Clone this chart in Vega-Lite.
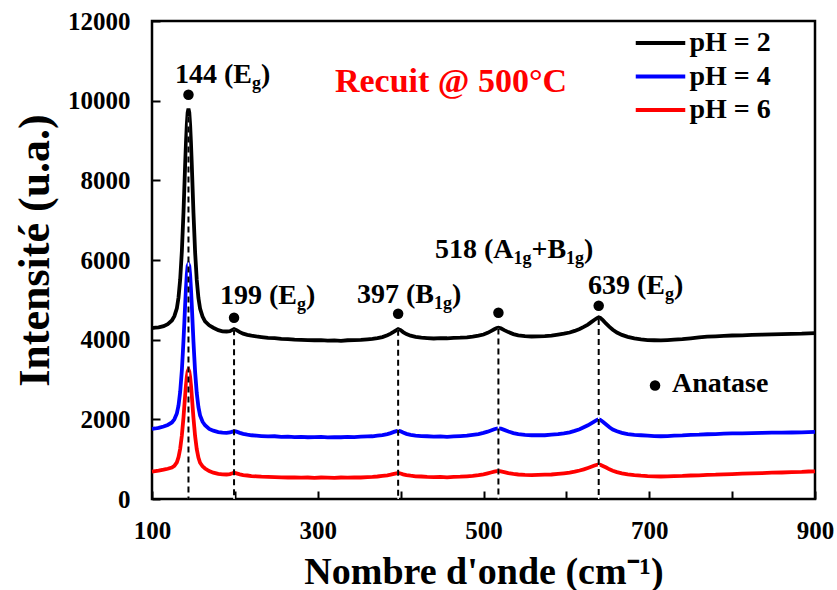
{
  "$schema": "https://vega.github.io/schema/vega-lite/v6.json",
  "width": 663,
  "height": 478,
  "autosize": {"type": "none"},
  "padding": {"left": 152, "top": 21, "right": 22, "bottom": 91},
  "background": "white",
  "config": {
    "view": {"stroke": "black", "strokeWidth": 2.5},
    "font": "Liberation Serif",
    "axis": {
      "grid": false,
      "domain": false,
      "tickColor": "black",
      "tickWidth": 2,
      "tickSize": -8,
      "labelFont": "Liberation Serif",
      "labelFontWeight": "bold",
      "labelFontSize": 25,
      "labelColor": "black",
      "titleFont": "Liberation Serif",
      "titleFontWeight": "bold",
      "titleFontSize": 38,
      "titleColor": "black"
    }
  },
  "encoding": {
    "x": {
      "field": "w",
      "type": "quantitative",
      "scale": {"domain": [100, 900], "nice": false, "zero": false},
      "axis": {
        "values": [100, 200, 300, 400, 500, 600, 700, 800, 900],
        "format": "d",
        "labelExpr": "datum.value % 200 == 100 ? datum.label : ''",
        "labelFlush": false,
        "labelOverlap": false,
        "labelPadding": 27,
        "title": "Nombre d'onde (cm⁻¹)",
        "titleX": 331.5,
        "titleY": 73,
        "titleAlign": "center",
        "titleBaseline": "middle"
      }
    },
    "y": {
      "field": "i",
      "type": "quantitative",
      "scale": {"domain": [0, 12000], "nice": false, "zero": false},
      "axis": {
        "values": [0, 2000, 4000, 6000, 8000, 10000, 12000],
        "format": "d",
        "labelPadding": 30,
        "labelOverlap": false,
        "title": "Intensité (u.a.)",
        "titleFontSize": 44,
        "titleX": -117,
        "titleY": 229,
        "titleAngle": -90,
        "titleAlign": "center",
        "titleBaseline": "middle"
      }
    }
  },
  "layer": [
    {
      "data": {
        "values": [
          {"w": 100, "pH = 2": 4290, "pH = 4": 1760, "pH = 6": 690},
          {"w": 104, "pH = 2": 4300, "pH = 4": 1770, "pH = 6": 700},
          {"w": 108, "pH = 2": 4310, "pH = 4": 1785, "pH = 6": 710},
          {"w": 114, "pH = 2": 4340, "pH = 4": 1820, "pH = 6": 735},
          {"w": 119, "pH = 2": 4390, "pH = 4": 1860, "pH = 6": 760},
          {"w": 124, "pH = 2": 4480, "pH = 4": 1920, "pH = 6": 790},
          {"w": 127, "pH = 2": 4590, "pH = 4": 2000, "pH = 6": 830},
          {"w": 130, "pH = 2": 4790, "pH = 4": 2150, "pH = 6": 920},
          {"w": 132, "pH = 2": 5060, "pH = 4": 2350, "pH = 6": 1050},
          {"w": 134, "pH = 2": 5510, "pH = 4": 2690, "pH = 6": 1260},
          {"w": 136, "pH = 2": 6210, "pH = 4": 3220, "pH = 6": 1590},
          {"w": 137, "pH = 2": 6700, "pH = 4": 3590, "pH = 6": 1820},
          {"w": 138, "pH = 2": 7200, "pH = 4": 3980, "pH = 6": 2050},
          {"w": 139, "pH = 2": 7800, "pH = 4": 4420, "pH = 6": 2330},
          {"w": 140, "pH = 2": 8400, "pH = 4": 4880, "pH = 6": 2600},
          {"w": 141, "pH = 2": 8950, "pH = 4": 5290, "pH = 6": 2860},
          {"w": 142, "pH = 2": 9400, "pH = 4": 5640, "pH = 6": 3070},
          {"w": 143, "pH = 2": 9700, "pH = 4": 5850, "pH = 6": 3200},
          {"w": 144, "pH = 2": 9800, "pH = 4": 5900, "pH = 6": 3250},
          {"w": 145, "pH = 2": 9700, "pH = 4": 5850, "pH = 6": 3200},
          {"w": 146, "pH = 2": 9400, "pH = 4": 5630, "pH = 6": 3065},
          {"w": 147, "pH = 2": 8950, "pH = 4": 5280, "pH = 6": 2855},
          {"w": 148, "pH = 2": 8400, "pH = 4": 4870, "pH = 6": 2600},
          {"w": 149, "pH = 2": 7800, "pH = 4": 4410, "pH = 6": 2320},
          {"w": 150, "pH = 2": 7200, "pH = 4": 3960, "pH = 6": 2045},
          {"w": 151, "pH = 2": 6700, "pH = 4": 3575, "pH = 6": 1810},
          {"w": 152, "pH = 2": 6200, "pH = 4": 3200, "pH = 6": 1580},
          {"w": 154, "pH = 2": 5500, "pH = 4": 2660, "pH = 6": 1250},
          {"w": 156, "pH = 2": 5050, "pH = 4": 2310, "pH = 6": 1040},
          {"w": 158, "pH = 2": 4780, "pH = 4": 2100, "pH = 6": 910},
          {"w": 161, "pH = 2": 4580, "pH = 4": 1940, "pH = 6": 820},
          {"w": 164, "pH = 2": 4460, "pH = 4": 1850, "pH = 6": 765},
          {"w": 169, "pH = 2": 4360, "pH = 4": 1760, "pH = 6": 700},
          {"w": 174, "pH = 2": 4300, "pH = 4": 1715, "pH = 6": 660},
          {"w": 180, "pH = 2": 4240, "pH = 4": 1680, "pH = 6": 630},
          {"w": 185, "pH = 2": 4210, "pH = 4": 1665, "pH = 6": 620},
          {"w": 190, "pH = 2": 4205, "pH = 4": 1660, "pH = 6": 615},
          {"w": 194, "pH = 2": 4215, "pH = 4": 1670, "pH = 6": 625},
          {"w": 197, "pH = 2": 4245, "pH = 4": 1690, "pH = 6": 645},
          {"w": 199, "pH = 2": 4265, "pH = 4": 1705, "pH = 6": 660},
          {"w": 202, "pH = 2": 4240, "pH = 4": 1690, "pH = 6": 645},
          {"w": 206, "pH = 2": 4190, "pH = 4": 1660, "pH = 6": 620},
          {"w": 210, "pH = 2": 4150, "pH = 4": 1635, "pH = 6": 600},
          {"w": 215, "pH = 2": 4120, "pH = 4": 1615, "pH = 6": 590},
          {"w": 220, "pH = 2": 4100, "pH = 4": 1600, "pH = 6": 575},
          {"w": 226, "pH = 2": 4080, "pH = 4": 1590, "pH = 6": 570},
          {"w": 232, "pH = 2": 4065, "pH = 4": 1580, "pH = 6": 560},
          {"w": 240, "pH = 2": 4045, "pH = 4": 1570, "pH = 6": 555},
          {"w": 248, "pH = 2": 4040, "pH = 4": 1575, "pH = 6": 550},
          {"w": 256, "pH = 2": 4020, "pH = 4": 1560, "pH = 6": 545},
          {"w": 264, "pH = 2": 4015, "pH = 4": 1565, "pH = 6": 540},
          {"w": 272, "pH = 2": 4000, "pH = 4": 1555, "pH = 6": 545},
          {"w": 280, "pH = 2": 3995, "pH = 4": 1560, "pH = 6": 535},
          {"w": 288, "pH = 2": 3990, "pH = 4": 1550, "pH = 6": 540},
          {"w": 296, "pH = 2": 3985, "pH = 4": 1555, "pH = 6": 530},
          {"w": 304, "pH = 2": 3990, "pH = 4": 1560, "pH = 6": 540},
          {"w": 312, "pH = 2": 3975, "pH = 4": 1545, "pH = 6": 535},
          {"w": 320, "pH = 2": 3980, "pH = 4": 1555, "pH = 6": 530},
          {"w": 328, "pH = 2": 3970, "pH = 4": 1550, "pH = 6": 540},
          {"w": 336, "pH = 2": 3985, "pH = 4": 1560, "pH = 6": 535},
          {"w": 344, "pH = 2": 3990, "pH = 4": 1555, "pH = 6": 545},
          {"w": 352, "pH = 2": 3995, "pH = 4": 1565, "pH = 6": 540},
          {"w": 360, "pH = 2": 4010, "pH = 4": 1570, "pH = 6": 550},
          {"w": 366, "pH = 2": 4020, "pH = 4": 1575, "pH = 6": 555},
          {"w": 372, "pH = 2": 4040, "pH = 4": 1590, "pH = 6": 565},
          {"w": 378, "pH = 2": 4065, "pH = 4": 1605, "pH = 6": 580},
          {"w": 384, "pH = 2": 4110, "pH = 4": 1630, "pH = 6": 595},
          {"w": 388, "pH = 2": 4150, "pH = 4": 1655, "pH = 6": 610},
          {"w": 392, "pH = 2": 4200, "pH = 4": 1685, "pH = 6": 630},
          {"w": 395, "pH = 2": 4240, "pH = 4": 1705, "pH = 6": 645},
          {"w": 397, "pH = 2": 4265, "pH = 4": 1715, "pH = 6": 655},
          {"w": 400, "pH = 2": 4240, "pH = 4": 1700, "pH = 6": 640},
          {"w": 403, "pH = 2": 4190, "pH = 4": 1670, "pH = 6": 620},
          {"w": 407, "pH = 2": 4140, "pH = 4": 1635, "pH = 6": 600},
          {"w": 412, "pH = 2": 4100, "pH = 4": 1610, "pH = 6": 585},
          {"w": 418, "pH = 2": 4070, "pH = 4": 1590, "pH = 6": 570},
          {"w": 425, "pH = 2": 4050, "pH = 4": 1580, "pH = 6": 565},
          {"w": 432, "pH = 2": 4040, "pH = 4": 1575, "pH = 6": 555},
          {"w": 440, "pH = 2": 4030, "pH = 4": 1565, "pH = 6": 550},
          {"w": 448, "pH = 2": 4040, "pH = 4": 1570, "pH = 6": 555},
          {"w": 456, "pH = 2": 4035, "pH = 4": 1560, "pH = 6": 545},
          {"w": 464, "pH = 2": 4045, "pH = 4": 1570, "pH = 6": 555},
          {"w": 472, "pH = 2": 4050, "pH = 4": 1580, "pH = 6": 560},
          {"w": 480, "pH = 2": 4060, "pH = 4": 1590, "pH = 6": 570},
          {"w": 487, "pH = 2": 4075, "pH = 4": 1610, "pH = 6": 580},
          {"w": 494, "pH = 2": 4100, "pH = 4": 1630, "pH = 6": 600},
          {"w": 500, "pH = 2": 4130, "pH = 4": 1660, "pH = 6": 620},
          {"w": 505, "pH = 2": 4170, "pH = 4": 1690, "pH = 6": 645},
          {"w": 509, "pH = 2": 4215, "pH = 4": 1720, "pH = 6": 665},
          {"w": 513, "pH = 2": 4260, "pH = 4": 1750, "pH = 6": 685},
          {"w": 516, "pH = 2": 4290, "pH = 4": 1770, "pH = 6": 700},
          {"w": 518, "pH = 2": 4300, "pH = 4": 1775, "pH = 6": 705},
          {"w": 521, "pH = 2": 4285, "pH = 4": 1765, "pH = 6": 695},
          {"w": 525, "pH = 2": 4240, "pH = 4": 1735, "pH = 6": 675},
          {"w": 530, "pH = 2": 4190, "pH = 4": 1695, "pH = 6": 650},
          {"w": 536, "pH = 2": 4140, "pH = 4": 1655, "pH = 6": 630},
          {"w": 542, "pH = 2": 4110, "pH = 4": 1630, "pH = 6": 615},
          {"w": 550, "pH = 2": 4090, "pH = 4": 1610, "pH = 6": 605},
          {"w": 558, "pH = 2": 4080, "pH = 4": 1600, "pH = 6": 600},
          {"w": 566, "pH = 2": 4085, "pH = 4": 1605, "pH = 6": 605},
          {"w": 574, "pH = 2": 4090, "pH = 4": 1600, "pH = 6": 610},
          {"w": 582, "pH = 2": 4100, "pH = 4": 1615, "pH = 6": 615},
          {"w": 590, "pH = 2": 4125, "pH = 4": 1630, "pH = 6": 630},
          {"w": 597, "pH = 2": 4150, "pH = 4": 1650, "pH = 6": 645},
          {"w": 604, "pH = 2": 4180, "pH = 4": 1675, "pH = 6": 660},
          {"w": 610, "pH = 2": 4220, "pH = 4": 1710, "pH = 6": 685},
          {"w": 616, "pH = 2": 4270, "pH = 4": 1750, "pH = 6": 715},
          {"w": 621, "pH = 2": 4320, "pH = 4": 1800, "pH = 6": 745},
          {"w": 626, "pH = 2": 4380, "pH = 4": 1850, "pH = 6": 780},
          {"w": 630, "pH = 2": 4440, "pH = 4": 1900, "pH = 6": 810},
          {"w": 634, "pH = 2": 4500, "pH = 4": 1950, "pH = 6": 840},
          {"w": 637, "pH = 2": 4540, "pH = 4": 1985, "pH = 6": 860},
          {"w": 639, "pH = 2": 4560, "pH = 4": 2000, "pH = 6": 870},
          {"w": 641, "pH = 2": 4545, "pH = 4": 1985, "pH = 6": 860},
          {"w": 644, "pH = 2": 4490, "pH = 4": 1940, "pH = 6": 830},
          {"w": 648, "pH = 2": 4400, "pH = 4": 1870, "pH = 6": 790},
          {"w": 652, "pH = 2": 4320, "pH = 4": 1800, "pH = 6": 745},
          {"w": 656, "pH = 2": 4250, "pH = 4": 1745, "pH = 6": 710},
          {"w": 661, "pH = 2": 4180, "pH = 4": 1700, "pH = 6": 675},
          {"w": 667, "pH = 2": 4120, "pH = 4": 1660, "pH = 6": 645},
          {"w": 674, "pH = 2": 4070, "pH = 4": 1630, "pH = 6": 620},
          {"w": 682, "pH = 2": 4030, "pH = 4": 1610, "pH = 6": 600},
          {"w": 690, "pH = 2": 4005, "pH = 4": 1600, "pH = 6": 585},
          {"w": 698, "pH = 2": 3990, "pH = 4": 1590, "pH = 6": 575},
          {"w": 706, "pH = 2": 3985, "pH = 4": 1580, "pH = 6": 570},
          {"w": 714, "pH = 2": 3980, "pH = 4": 1575, "pH = 6": 565},
          {"w": 722, "pH = 2": 3990, "pH = 4": 1580, "pH = 6": 570},
          {"w": 730, "pH = 2": 4000, "pH = 4": 1590, "pH = 6": 575},
          {"w": 740, "pH = 2": 4015, "pH = 4": 1595, "pH = 6": 580},
          {"w": 750, "pH = 2": 4035, "pH = 4": 1610, "pH = 6": 590},
          {"w": 760, "pH = 2": 4055, "pH = 4": 1615, "pH = 6": 595},
          {"w": 770, "pH = 2": 4075, "pH = 4": 1625, "pH = 6": 605},
          {"w": 780, "pH = 2": 4085, "pH = 4": 1630, "pH = 6": 610},
          {"w": 790, "pH = 2": 4095, "pH = 4": 1640, "pH = 6": 620},
          {"w": 800, "pH = 2": 4105, "pH = 4": 1645, "pH = 6": 625},
          {"w": 812, "pH = 2": 4110, "pH = 4": 1650, "pH = 6": 635},
          {"w": 824, "pH = 2": 4120, "pH = 4": 1655, "pH = 6": 645},
          {"w": 836, "pH = 2": 4125, "pH = 4": 1660, "pH = 6": 650},
          {"w": 848, "pH = 2": 4135, "pH = 4": 1665, "pH = 6": 660},
          {"w": 860, "pH = 2": 4140, "pH = 4": 1665, "pH = 6": 665},
          {"w": 872, "pH = 2": 4145, "pH = 4": 1670, "pH = 6": 675},
          {"w": 884, "pH = 2": 4150, "pH = 4": 1675, "pH = 6": 680},
          {"w": 892, "pH = 2": 4160, "pH = 4": 1680, "pH = 6": 690},
          {"w": 900, "pH = 2": 4165, "pH = 4": 1685, "pH = 6": 695}
        ]
      },
      "transform": [{"fold": ["pH = 2", "pH = 4", "pH = 6"], "as": ["s", "i"]}],
      "mark": {"type": "line", "strokeWidth": 3.8},
      "encoding": {
        "color": {
          "field": "s",
          "type": "nominal",
          "scale": {"domain": ["pH = 2", "pH = 4", "pH = 6"], "range": ["#000000", "#0000ff", "#ff0000"]},
          "legend": {
            "orient": "none",
            "legendX": 490,
            "legendY": 3.5,
            "title": null,
            "padding": 0,
            "symbolType": "M-1.5,0L1.5,0",
            "symbolSize": 1089,
            "symbolStrokeWidth": 4,
            "labelFont": "Liberation Serif",
            "labelFontSize": 28,
            "labelFontWeight": "bold",
            "labelColor": "black",
            "labelOffset": 10.5,
            "rowPadding": 0.5
          }
        }
      }
    },
    {
      "data": {
        "values": [
          {"w": 144, "i": 9600},
          {"w": 199, "i": 4260},
          {"w": 397, "i": 4250},
          {"w": 518, "i": 4280},
          {"w": 639, "i": 4520}
        ]
      },
      "layer": [
        {
          "mark": {"type": "rule", "color": "white", "strokeWidth": 1.5},
          "encoding": {"y2": {"datum": 0}}
        },
        {
          "mark": {"type": "rule", "color": "black", "strokeWidth": 2, "strokeDash": [6, 4]},
          "encoding": {"y2": {"datum": 0}}
        }
      ]
    },
    {
      "data": {
        "values": [
          {"w": 144, "i": 10150},
          {"w": 199, "i": 4550},
          {"w": 397, "i": 4650},
          {"w": 518, "i": 4675},
          {"w": 639, "i": 4850},
          {"w": 707, "i": 2850}
        ]
      },
      "mark": {"type": "point", "filled": true, "color": "black", "opacity": 1, "size": 110}
    },
    {
      "data": {
        "values": [
          {"t": "144 (E", "w": 127.8, "i": 10450},
          {"t": ")", "w": 231.5, "i": 10450},
          {"t": "199 (E", "w": 182.0, "i": 4900},
          {"t": ")", "w": 285.8, "i": 4900},
          {"t": "397 (B", "w": 347.4, "i": 4925},
          {"t": ")", "w": 462.0, "i": 4925},
          {"t": "518 (A", "w": 441.5, "i": 6050},
          {"t": "+B", "w": 557.9, "i": 6050},
          {"t": ")", "w": 621.3, "i": 6050},
          {"t": "639 (E", "w": 626.1, "i": 5150},
          {"t": ")", "w": 729.9, "i": 5150},
          {"t": "Anatase", "w": 727.4, "i": 2675}
        ]
      },
      "mark": {"type": "text", "font": "Liberation Serif", "fontWeight": "bold", "fontSize": 28, "align": "left", "baseline": "alphabetic", "color": "black"},
      "encoding": {"text": {"field": "t"}}
    },
    {
      "data": {
        "values": [
          {"t": "g", "w": 220.7, "i": 10450},
          {"t": "g", "w": 275.0, "i": 4900},
          {"t": "1g", "w": 440.3, "i": 4925},
          {"t": "1g", "w": 536.2, "i": 6050},
          {"t": "1g", "w": 599.5, "i": 6050},
          {"t": "g", "w": 719.0, "i": 5150}
        ]
      },
      "mark": {"type": "text", "font": "Liberation Serif", "fontWeight": "bold", "fontSize": 18, "align": "left", "baseline": "alphabetic", "dy": 6, "color": "black"},
      "encoding": {"text": {"field": "t"}}
    },
    {
      "data": {"values": [{"t": "Recuit @ 500°C", "w": 460.8, "i": 10225}]},
      "mark": {"type": "text", "font": "Liberation Serif", "fontWeight": "bold", "fontSize": 34, "align": "center", "baseline": "alphabetic", "color": "#ff0000"},
      "encoding": {"text": {"field": "t"}}
    }
  ]
}
